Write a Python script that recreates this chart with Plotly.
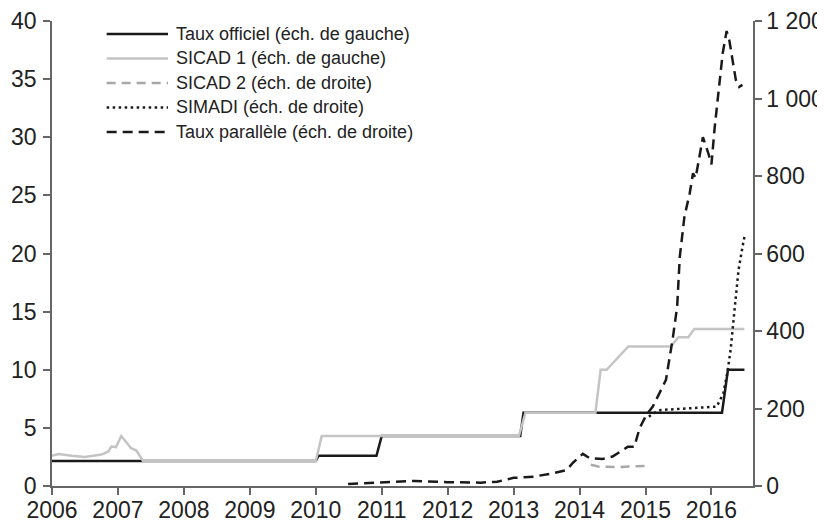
import plotly.graph_objects as go

# Données (années décimales)
officiel_x = [2006.0, 2010.0, 2010.04, 2010.92, 2011.0, 2013.1, 2013.15, 2016.16, 2016.25, 2016.5]
officiel_y = [2.15, 2.15, 2.6, 2.6, 4.3, 4.3, 6.3, 6.3, 10.0, 10.0]

sicad1_x = [2006.0, 2006.1, 2006.3, 2006.5, 2006.75, 2006.85, 2006.9, 2006.97, 2007.05,
            2007.2, 2007.28, 2007.38, 2010.0, 2010.09, 2013.08, 2013.18, 2014.24, 2014.32,
            2014.41, 2014.74, 2015.38, 2015.5, 2015.65, 2015.74, 2016.5]
sicad1_y = [2.6, 2.75, 2.6, 2.5, 2.7, 2.95, 3.4, 3.35, 4.3,
            3.25, 3.05, 2.15, 2.15, 4.3, 4.3, 6.3, 6.3, 10.0,
            10.0, 12.0, 12.0, 12.8, 12.8, 13.5, 13.5]

sicad2_x = [2014.17, 2014.3, 2014.6, 2014.9, 2015.05]
sicad2_y = [55, 50, 49, 51, 52]

simadi_x = [2015.05, 2015.15, 2015.23, 2015.6, 2016.08, 2016.18, 2016.24, 2016.29,
            2016.35, 2016.41, 2016.48, 2016.5]
simadi_y = [179, 190, 196, 200, 205, 239, 291, 351, 463, 557, 626, 643]

parallele_x = [2010.49, 2010.97, 2011.5, 2012.0, 2012.5, 2012.75, 2013.0, 2013.3, 2013.6,
               2013.8, 2013.9, 2014.05, 2014.15, 2014.35, 2014.5, 2014.63, 2014.73, 2014.83,
               2014.91, 2015.01, 2015.11, 2015.21, 2015.31, 2015.41, 2015.48, 2015.52,
               2015.59, 2015.67, 2015.72, 2015.76, 2015.8, 2015.87, 2015.95, 2016.0,
               2016.05, 2016.12, 2016.17, 2016.23, 2016.27, 2016.32, 2016.37, 2016.42, 2016.47]
parallele_y = [5, 8.5, 13, 10, 8.6, 11, 21, 24, 33,
               41, 60, 83, 72, 70, 76, 90, 101, 101,
               149, 183, 205, 239, 274, 377, 463, 592,
               695, 755, 807, 795, 830, 900, 860, 830,
               927, 1039, 1116, 1174, 1151, 1099, 1048, 1030, 1035]

years = list(range(2006, 2017))
left_ticks = [0, 5, 10, 15, 20, 25, 30, 35, 40]
right_ticks = [0, 200, 400, 600, 800, 1000, 1200]
right_labels = ["0", "200", "400", "600", "800", "1 000", "1 200"]

legend_names = ["Taux officiel (éch. de gauche)", "SICAD 1 (éch. de gauche)",
                "SICAD 2 (éch. de droite)", "SIMADI (éch. de droite)",
                "Taux parallèle (éch. de droite)"]

BLACK = "#1a1a1a"
LGRAY = "#c4c4c4"
MGRAY = "#a8a8a8"
styles = [
    dict(color=BLACK, width=2.5, dash="solid"),
    dict(color=LGRAY, width=2.5, dash="solid"),
    dict(color=MGRAY, width=2.5, dash="9px,6px"),
    dict(color=BLACK, width=2.5, dash="2.5px,3.5px"),
    dict(color=BLACK, width=2.5, dash="10px,6px"),
]

fig = go.Figure()
fig.add_trace(go.Scatter(x=officiel_x, y=officiel_y, mode="lines", line=styles[0]))
fig.add_trace(go.Scatter(x=sicad1_x, y=sicad1_y, mode="lines", line=styles[1]))
fig.add_trace(go.Scatter(x=sicad2_x, y=sicad2_y, mode="lines", line=styles[2], yaxis="y2"))
fig.add_trace(go.Scatter(x=simadi_x, y=simadi_y, mode="lines", line=styles[3], yaxis="y2"))
fig.add_trace(go.Scatter(x=parallele_x, y=parallele_y, mode="lines", line=styles[4], yaxis="y2"))

# légende dessinée à la main (traits longs comme dans l'original)
row_y = [0.972, 0.9194, 0.8667, 0.814, 0.7613]
for name, st, yy in zip(legend_names, styles, row_y):
    fig.add_shape(type="line", xref="paper", yref="paper", x0=0.078, x1=0.1655, y0=yy, y1=yy,
                  line=st)
    fig.add_annotation(xref="paper", yref="paper", x=0.174, y=yy, text=name, showarrow=False,
                       xanchor="left", yanchor="middle",
                       font=dict(size=18, color="#222"))

axis_common = dict(showline=True, linecolor="#666", linewidth=1.5, ticks="outside",
                   ticklen=7, tickwidth=1.5, tickcolor="#666", showgrid=False,
                   zeroline=False, automargin=False,
                   tickfont=dict(size=23, color="#222"))

# la page ajoute 8 px de marge : la figure fait donc 817 x 514
fig.update_layout(
    width=817, height=514,
    margin=dict(l=44, r=72, t=13, b=36),
    plot_bgcolor="white", paper_bgcolor="white",
    font=dict(family="Liberation Sans, Arial, sans-serif"),
    showlegend=False,
    xaxis=dict(range=[2006, 2016.63], tickvals=years, ticklabelstandoff=-4, **axis_common),
    yaxis=dict(range=[0, 40], tickvals=left_ticks, ticklabelstandoff=2, **axis_common),
    yaxis2=dict(range=[0, 1200], tickvals=right_ticks, ticktext=right_labels,
                overlaying="y", side="right", ticklabelstandoff=0, **axis_common),
)

fig.write_html("out.html")
